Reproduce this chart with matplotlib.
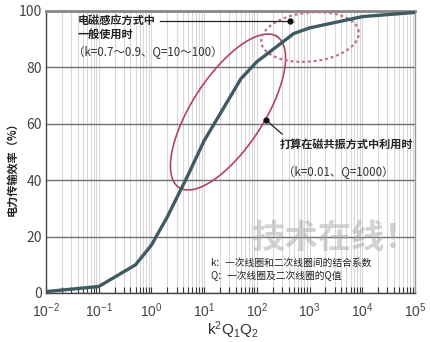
import numpy as np
import matplotlib
matplotlib.use("Agg")
import matplotlib.pyplot as plt
from matplotlib.ticker import LogLocator, NullFormatter

plt.rcParams['font.family'] = ['Noto Sans CJK SC', 'DejaVu Sans']
plt.rcParams['mathtext.fontset'] = 'custom'
plt.rcParams['mathtext.rm'] = 'Liberation Sans'
plt.rcParams['mathtext.it'] = 'Liberation Sans'

# k^2*Q1*Q2 vs. power transfer efficiency (%)
k2q1q2 = [0.01, 0.1, 0.5, 1, 2, 5, 10, 50, 100, 500, 1000, 10000, 100000]
efficiency = [0.5, 2.3, 10, 17, 27, 42, 54, 76, 82, 92, 94, 98, 99.5]

x_ticks = [1e-2, 1e-1, 1e0, 1e1, 1e2, 1e3, 1e4, 1e5]
x_ticklabels = [r'$10^{-2}$', r'$10^{-1}$', r'$10^{0}$', r'$10^{1}$',
                r'$10^{2}$', r'$10^{3}$', r'$10^{4}$', r'$10^{5}$']
y_ticks = [0, 20, 40, 60, 80, 100]

W, H = 430, 342
fig = plt.figure(figsize=(W / 100, H / 100), dpi=100)
L, R, T, B = 46, 415, 11, 293
ax = fig.add_axes([L / W, (H - B) / H, (R - L) / W, (B - T) / H])


def frac(x, y):
    # pixel position (from top-left) -> axes fraction
    return (np.asarray(x) - L) / (R - L), (B - np.asarray(y)) / (B - T)


def ellipse(cx, cy, a, b, ang):
    t = np.linspace(0, 2 * np.pi, 300)
    th = np.radians(ang)
    x = cx + a * np.cos(t) * np.cos(th) - b * np.sin(t) * np.sin(th)
    y = cy - (a * np.cos(t) * np.sin(th) + b * np.sin(t) * np.cos(th))
    return frac(x, y)


ax.set_xscale('log')
ax.set_xlim(1e-2, 1e5)
ax.set_ylim(0, 100)

ax.xaxis.set_major_locator(LogLocator(base=10, numticks=10))
ax.xaxis.set_minor_locator(LogLocator(base=10, subs=np.arange(2, 10), numticks=100))
ax.xaxis.set_minor_formatter(NullFormatter())
ax.set_xticks(x_ticks)
ax.set_xticklabels(x_ticklabels)
ax.set_yticks(y_ticks)

ax.grid(True, which='both', axis='x', color='#d8d8d8', lw=0.8)
ax.grid(True, which='major', axis='y', color='#707070', lw=1.0)
ax.set_axisbelow(True)

ax.tick_params(axis='x', which='both', direction='in', length=4, width=0.8,
               color='#333333', labelsize=10, labelcolor='#444444', pad=6)
ax.tick_params(axis='y', length=0, labelsize=10, labelcolor='#444444', pad=3)

for s in ['left', 'bottom']:
    ax.spines[s].set_color('#444444')
    ax.spines[s].set_linewidth(1.0)
ax.spines['top'].set_color('#888888')
ax.spines['top'].set_linewidth(2.0)
ax.spines['right'].set_color('#999999')
ax.spines['right'].set_linewidth(1.0)

# efficiency curve
ax.plot(k2q1q2, efficiency, color='#3e5b62', lw=2.4, solid_joinstyle='miter', zorder=5)

# magnetic resonance region (solid) and induction region (dotted)
ex, ey = ellipse(228, 112, 90, 36, 57)
ax.plot(ex, ey, transform=ax.transAxes, color='#b3435f', lw=1.2, zorder=4, clip_on=False)
ex, ey = ellipse(310, 37, 49, 24.5, 6)
ax.plot(ex, ey, transform=ax.transAxes, color='#c07189', lw=1.6,
        ls=(0, (1.3, 1.3)), zorder=4, clip_on=False)

# annotations
ax.plot(*frac([160, 290], [21, 21]), transform=ax.transAxes, color='#222222', lw=0.9, zorder=6)
ax.plot(*frac(290, 21), 'o', transform=ax.transAxes, color='#111111', ms=3.5, zorder=7)
ax.plot(*frac([266, 282], [120, 134]), transform=ax.transAxes, color='#222222', lw=0.9, zorder=6)
ax.plot(*frac(266, 120), 'o', transform=ax.transAxes, color='#111111', ms=3.5, zorder=7)

ax.text(*frac(78, 20), '电磁感应方式中', transform=ax.transAxes, fontsize=8,
        fontweight='bold', color='#222222', va='center', ha='left')
ax.text(*frac(78, 34), '一般使用时', transform=ax.transAxes, fontsize=8,
        fontweight='bold', color='#222222', va='center', ha='left')
ax.text(*frac(73, 52), '（k=0.7～0.9、Q=10～100）', transform=ax.transAxes, fontsize=8.3,
        color='#333333', va='center', ha='left')
ax.text(*frac(280, 144), '打算在磁共振方式中利用时', transform=ax.transAxes, fontsize=8,
        fontweight='bold', color='#222222', va='center', ha='left')
ax.text(*frac(283, 172), '（k=0.01、Q=1000）', transform=ax.transAxes, fontsize=8.3,
        color='#333333', va='center', ha='left')

# watermark
ax.text(*frac(335, 238), '技术在线！', transform=ax.transAxes, fontsize=24,
        fontweight='bold', color='#a8a8a8', alpha=0.5, va='center', ha='center', zorder=3)

ax.text(*frac(210, 263), 'k：一次线圈和二次线圈间的结合系数', transform=ax.transAxes,
        fontsize=7, color='#222222', va='center', ha='left', zorder=6)
ax.text(*frac(210, 276), 'Q：一次线圈及二次线圈的Q值', transform=ax.transAxes,
        fontsize=7, color='#222222', va='center', ha='left', zorder=6)

fig.text(12 / W, 1 - 166 / H, '电力传输效率（%）', rotation=90, fontsize=8,
         fontweight='bold', color='#222222', va='center', ha='center')
fig.text(233 / W, 1 - 330 / H, r'$\mathrm{k^2Q_1Q_2}$', fontsize=11,
         color='#333333', va='center', ha='center')

fig.savefig('out.png', dpi=100, facecolor='white')
